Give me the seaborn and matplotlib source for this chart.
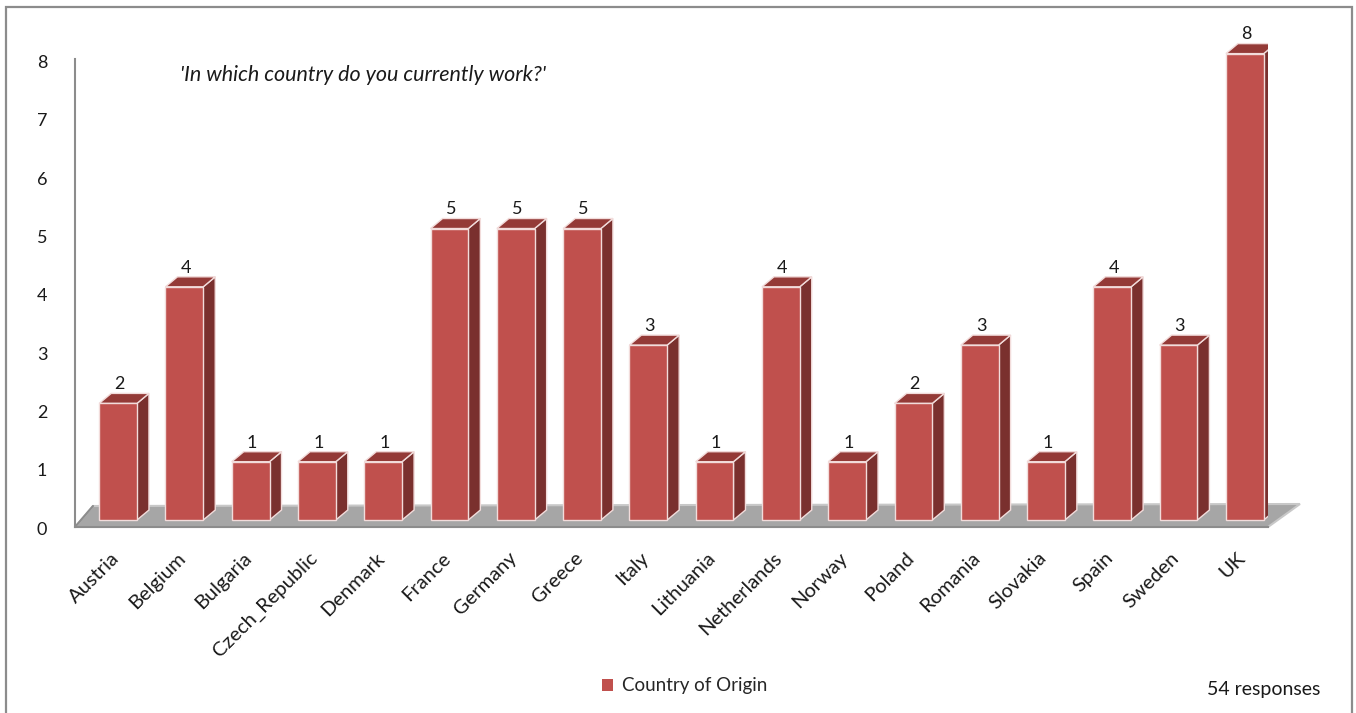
import matplotlib
matplotlib.use("Agg")
import matplotlib.pyplot as plt
import matplotlib.transforms as mtransforms
from matplotlib.patches import Polygon, Rectangle, Patch
import seaborn as sns

countries = ["Austria", "Belgium", "Bulgaria", "Czech_Republic", "Denmark", "France",
             "Germany", "Greece", "Italy", "Lithuania", "Netherlands", "Norway",
             "Poland", "Romania", "Slovakia", "Spain", "Sweden", "UK"]
counts = [2, 4, 1, 1, 1, 5, 5, 5, 3, 1, 4, 1, 2, 3, 1, 4, 3, 8]
yticks = [0, 1, 2, 3, 4, 5, 6, 7, 8]
title_text = "'In which country do you currently work?'"
legend_text = "Country of Origin"
note_text = "54 responses"

sns.set_theme(style="white")
plt.rcParams["font.family"] = ["Lato", "DejaVu Sans"]

W, H = 1356, 713
fig = plt.figure(figsize=(W / 100, H / 100), dpi=100)
fig.patch.set_facecolor("white")

# outer frame
fig.add_artist(Rectangle((6 / W, -0.05), (1352 - 6) / W, (H - 7) / H + 0.05,
                         transform=fig.transFigure, fill=False,
                         edgecolor="#8c8c8c", linewidth=1.6))

ax = fig.add_axes([75 / W, (H - 527) / H, (1268 - 75) / W, (527 - 18) / H])
ax.set_facecolor("none")

front = "#C0504D"
side = "#7A302E"
top = "#943A37"
edge = "#F2DCDB"

sns.barplot(x=countries, y=counts, color=front, width=0.57, edgecolor=edge,
            linewidth=1.0, saturation=1, ax=ax, zorder=3)

ax.set_xlim(-0.65, 17.35)
ax.set_ylim(-0.12, 8.611)

# floor
dx_l, dy_l = 18 / 66.3, 21 / 58.3
dx_r, dy_r = 32 / 66.3, 23 / 58.3
x0, x1 = -0.65, 17.35
yb = -0.12
floor = Polygon([(x0, yb), (x1, yb), (x1 + dx_r, yb + dy_r), (x0 + dx_l, yb + dy_l)],
                closed=True, facecolor="#a6a6a6", edgecolor="#c8c8c8",
                linewidth=1.5, zorder=1, clip_on=False)
ax.add_patch(floor)
ax.plot([x0, x0 + dx_l], [yb, yb + dy_l], color="#8c8c8c", lw=1.5, zorder=1.5,
        clip_on=False)

# 3D faces derived from bar patches
ddx, ddy = 12 / 66.3, 10 / 58.3
for p in ax.patches:
    if p is floor:
        continue
    bx, by = p.get_x(), p.get_y()
    bw, bh = p.get_width(), p.get_height()
    if bh <= 0:
        continue
    r = bx + bw
    t = by + bh
    ax.add_patch(Polygon([(r, by), (r + ddx, by + ddy), (r + ddx, t + ddy), (r, t)],
                         closed=True, facecolor=side, edgecolor=edge, lw=1.0, zorder=2.9))
    ax.add_patch(Polygon([(bx, t), (r, t), (r + ddx, t + ddy), (bx + ddx, t + ddy)],
                         closed=True, facecolor=top, edgecolor=edge, lw=1.0, zorder=2.9))
    ax.text(bx + bw / 2 + 0.02, t + ddy + 0.02, f"{int(bh)}", ha="center", va="bottom",
            fontsize=13, color="#1a1a1a", zorder=4)

# spines
for s in ["top", "right"]:
    ax.spines[s].set_visible(False)
ax.spines["left"].set_color("#8c8c8c")
ax.spines["left"].set_linewidth(1.5)
ax.spines["left"].set_bounds(-0.12, 7.9)
ax.spines["bottom"].set_color("#8c8c8c")
ax.spines["bottom"].set_linewidth(1.5)

ax.set_yticks(yticks)
ax.set_yticklabels([str(v) for v in yticks])
ax.tick_params(axis="y", length=0, pad=20, labelsize=13, labelcolor="#1a1a1a")
off = mtransforms.ScaledTranslation(0, -8 / 100, fig.dpi_scale_trans)
for lab in ax.get_yticklabels():
    lab.set_transform(lab.get_transform() + off)

ax.tick_params(axis="x", length=0, pad=16, labelsize=14.5, labelcolor="#1a1a1a")
offx = mtransforms.ScaledTranslation(-8 / 100, 0, fig.dpi_scale_trans)
for lab in ax.get_xticklabels():
    lab.set_rotation(45)
    lab.set_ha("right")
    lab.set_va("top")
    lab.set_rotation_mode("anchor")
    lab.set_transform(lab.get_transform() + offx)
ax.set_xlabel("")
ax.set_ylabel("")

fig.text(180 / W, 1 - 75 / H, title_text, fontsize=15.5, style="italic",
         ha="left", va="center", color="#1a1a1a")

fig.legend(handles=[Patch(facecolor=front, edgecolor="none", label=legend_text)],
           loc="center", bbox_to_anchor=(685 / W, 1 - 686 / H), frameon=False,
           fontsize=13.5, handlelength=0.55, handleheight=0.55, handletextpad=0.5)

fig.text(1320 / W, 1 - 689 / H, note_text, fontsize=14, ha="right", va="center",
         color="#1a1a1a")

fig.savefig("out.png", dpi=100)
